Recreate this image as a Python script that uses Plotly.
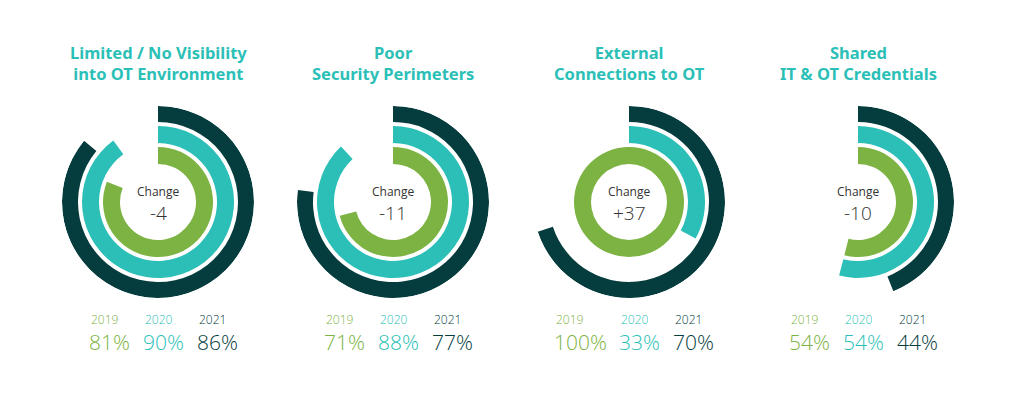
import plotly.graph_objects as go

# ---- data ----
titles = ["Limited / No Visibility<br>into OT Environment",
          "Poor<br>Security Perimeters",
          "External<br>Connections to OT",
          "Shared<br>IT & OT Credentials"]
years = ["2019", "2020", "2021"]
v2019 = [81, 71, 100, 54]
v2020 = [90, 88, 33, 54]
v2021 = [86, 77, 70, 44]
changes = ["-4", "-11", "+37", "-10"]

# ---- style ----
colors = ["#7CB342", "#2BBFB7", "#053C3E"]
ring_base = [38, 59, 80]
ring_thick = [17, 17, 16]
W, H = 1024, 394
centers_x = [158, 393, 629, 858]
center_y = 202
R = 96
font = "Noto Sans"
light_font = "Open Sans"

fig = go.Figure()
layout_polars = {}
annotations = []

for i in range(4):
    pname = "polar" if i == 0 else f"polar{i+1}"
    cx = centers_x[i]
    vals = [v2019[i], v2020[i], v2021[i]]
    for k in range(3):
        v = vals[k]
        fig.add_trace(go.Barpolar(
            r=[ring_thick[k]], base=[ring_base[k]],
            theta=[v * 3.6 / 2], width=[v * 3.6],
            marker=dict(color=colors[k], line=dict(width=0)),
            subplot=pname, showlegend=False, hoverinfo="skip"))
    layout_polars[pname] = dict(
        domain=dict(x=[(cx - R) / W, (cx + R) / W],
                    y=[(H - center_y - R) / H, (H - center_y + R) / H]),
        bgcolor="rgba(0,0,0,0)",
        radialaxis=dict(range=[0, R], visible=False, showgrid=False),
        angularaxis=dict(rotation=90, direction="clockwise", visible=False,
                         showgrid=False, showline=False, ticks=""),
    )
    # title
    annotations.append(dict(x=cx / W, y=1 - 63 / H, xref="paper", yref="paper",
                            text=f"<b>{titles[i]}</b>", showarrow=False,
                            font=dict(family=font, size=16.5, color="#2BBFB7"),
                            xanchor="center", yanchor="middle"))
    # center text
    annotations.append(dict(x=cx / W, y=1 - 202 / H, xref="paper", yref="paper",
                            text="Change", showarrow=False,
                            font=dict(family=light_font, size=12, color="#333333"),
                            xanchor="center", yanchor="bottom"))
    annotations.append(dict(x=cx / W, y=1 - 198 / H, xref="paper", yref="paper",
                            text=changes[i], showarrow=False,
                            font=dict(family=light_font, size=19, color="#333333",
                                      weight=300),
                            xanchor="center", yanchor="top"))
    # bottom labels
    pct = [f"{v}%" for v in vals]
    widths = [len(p[:-1]) * 10.5 + 16 for p in pct]
    gap = 17
    total = sum(widths) + 2 * gap
    x0 = cx - total / 2 + 4
    for k in range(3):
        annotations.append(dict(x=x0 / W, y=1 - 330 / H, xref="paper", yref="paper",
                                text=years[k], showarrow=False,
                                font=dict(family=light_font, size=12, color=colors[k],
                                          weight=300),
                                xanchor="left", yanchor="bottom", xshift=-1))
        annotations.append(dict(x=x0 / W, y=1 - 326 / H, xref="paper", yref="paper",
                                text=pct[k], showarrow=False,
                                font=dict(family=light_font, size=21, color=colors[k],
                                          weight=300),
                                xanchor="left", yanchor="top", xshift=-3))
        x0 += widths[k] + gap

fig.update_layout(width=W, height=H, margin=dict(l=0, r=0, t=0, b=0),
                  paper_bgcolor="white", plot_bgcolor="white",
                  annotations=annotations, **layout_polars)
fig.write_html("out.html", config={"displayModeBar": False},
               post_script="document.body.style.margin='0';document.body.style.padding='0';")
